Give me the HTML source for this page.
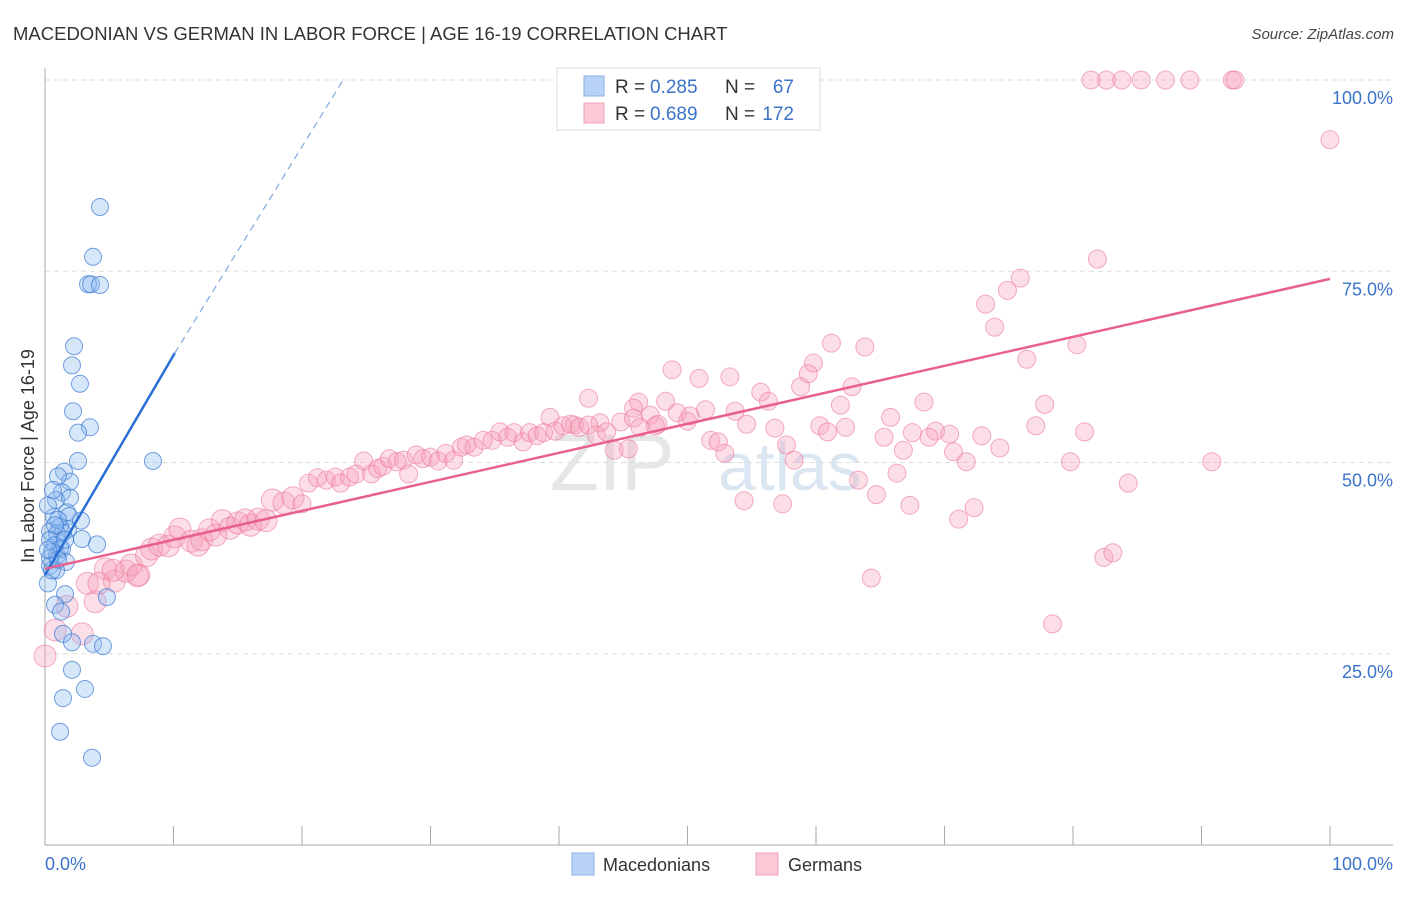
<!DOCTYPE html>
<html><head><meta charset="utf-8"><style>
body{margin:0;background:#fff;font-family:"Liberation Sans",sans-serif;}
svg text{font-family:"Liberation Sans",sans-serif;}
</style></head><body>
<svg id="chart" width="1406" height="892" xmlns="http://www.w3.org/2000/svg">
<text x="13" y="40" font-size="18.5" fill="#333">MACEDONIAN VS GERMAN IN LABOR FORCE | AGE 16-19 CORRELATION CHART</text>
<text x="1394" y="39" font-size="15" fill="#444" font-style="italic" text-anchor="end">Source: ZipAtlas.com</text>
<text x="550" y="490" font-size="80" fill="#e6e6e6" font-family="Liberation Serif">ZIP</text>
<text x="718" y="490" font-size="68" fill="#dbe6f3">atlas</text>
<g id="grid"></g>
<line x1="45" y1="68" x2="45" y2="845" stroke="#aaa" stroke-width="1"/>
<line x1="45" y1="845" x2="1393" y2="845" stroke="#aaa" stroke-width="1"/>
<g id="xticks"></g>
<text transform="translate(34,456) rotate(-90)" font-size="18" fill="#333" text-anchor="middle">In Labor Force | Age 16-19</text>
<text x="45" y="870" font-size="18" fill="#3b73c9">0.0%</text>
<text x="1393" y="870" font-size="18" fill="#3b73c9" text-anchor="end">100.0%</text>
<g id="pink"></g><g id="blue"></g><g id="trends"></g>
<g>
<rect x="557" y="68" width="263" height="62" fill="#fff" stroke="#ddd"/>
<rect x="584" y="76" width="20" height="20" fill="#b8d3f5" stroke="#8ab2e8"/>
<rect x="584" y="103" width="20" height="20" fill="#fcc8d6" stroke="#f0a0b8"/>
<text x="615" y="93" font-size="19" fill="#333">R =</text>
<text x="650" y="93" font-size="19" fill="#3b73c9">0.285</text>
<text x="725" y="93" font-size="19" fill="#333">N =</text>
<text x="794" y="93" font-size="19" fill="#3b73c9" text-anchor="end">67</text>
<text x="615" y="120" font-size="19" fill="#333">R =</text>
<text x="650" y="120" font-size="19" fill="#3b73c9">0.689</text>
<text x="725" y="120" font-size="19" fill="#333">N =</text>
<text x="794" y="120" font-size="19" fill="#3b73c9" text-anchor="end">172</text>
</g>
<g>
<rect x="572" y="853" width="22" height="22" fill="#b8d3f5" stroke="#8ab2e8"/>
<text x="603" y="871" font-size="18" fill="#333">Macedonians</text>
<rect x="756" y="853" width="22" height="22" fill="#fcc8d6" stroke="#f0a0b8"/>
<text x="788" y="871" font-size="18" fill="#333">Germans</text>
</g>
</svg>
<script>
const yTicks=[25,50,75,100];
const yTickLabels=["25.0%","50.0%","75.0%","100.0%"];
const xTickVals=[0,10,20,30,40,50,60,70,80,90,100];
const blueX=[4.28,3.74,3.35,3.58,4.28,2.26,2.10,2.72,2.18,3.50,2.57,2.57,8.40,1.48,1.95,1.01,1.32,0.86,0.70,1.71,1.87,2.80,1.17,1.79,0.39,0.93,1.40,2.88,4.05,0.39,0.78,1.17,0.54,0.93,1.32,1.63,0.39,0.86,0.23,4.82,1.56,0.78,1.25,1.40,3.74,4.51,2.10,2.10,3.11,1.40,1.17,3.66,0.54,0.39,1.01,1.95,0.23,0.62,1.01,1.56,0.23,0.78];
const blueY=[83.4,76.9,73.3,73.3,73.2,65.2,62.7,60.3,56.7,54.6,53.9,50.2,50.2,48.8,47.5,48.2,46.1,45.1,42.9,43.5,43.0,42.4,41.6,41.3,41.0,40.7,40.8,40.0,39.3,39.9,39.2,38.8,38.3,37.8,38.7,37.0,36.5,35.9,34.2,32.4,32.8,31.4,30.5,27.6,26.3,26.0,26.5,22.9,20.4,19.2,14.8,11.4,35.9,37.5,42.5,45.4,44.4,46.4,37.3,39.9,38.6,41.8];
const pinkX=[81.4,82.6,83.8,85.3,87.2,89.1,92.4,92.6,100,81.9,75.9,74.9,73.2,73.9,76.4,80.3,61.2,63.8,48.8,50.9,53.3,59.8,59.4,62.8,55.7,58.8,42.3,46.2,56.3,68.4,77.8,48.3,45.8,47.1,49.2,51.4,53.7,39.3,41.2,43.2,61.9,65.8,77.1,80.9,54.6,56.8,60.3,60.9,62.3,65.3,67.5,69.3,70.4,72.9,68.8,51.8,52.4,44.3,45.4,52.9,57.7,58.3,66.8,70.7,71.7,74.3,79.8,90.8,63.3,66.3,64.7,84.3,54.4,57.4,67.3,71.1,72.3,82.4,83.1,64.3,78.4,
0,0.8,1.7,2.9,3.9,3.3,4.7,5.4,6.3,7.3,6.7,7.9,8.3,8.9,9.6,10.1,10.5,11.4,11.9,12.2,12.8,13.3,13.8,14.4,15.0,15.6,16.0,16.6,17.2,17.7,18.6,19.3,20.0,20.5,21.2,21.9,22.6,23.0,23.7,24.2,24.8,25.4,25.9,26.3,26.8,27.4,27.9,28.3,28.9,29.4,30.0,30.6,31.2,31.8,32.4,32.8,33.4,34.1,34.8,35.4,36.0,36.5,37.2,37.7,38.3,38.8,39.7,40.3,40.9,41.6,42.3,42.9,43.7,44.8,45.8,46.3,47.7,50.0,50.2,47.5,5.3,7.2,4.2];
const pinkY=[100,100,100,100,100,100,100,100,92.2,76.6,74.1,72.5,70.7,67.7,63.5,65.4,65.6,65.1,62.1,61.0,61.2,63.0,61.6,59.9,59.2,59.9,58.4,57.9,58.0,57.9,57.6,58.0,57.1,56.2,56.5,56.9,56.7,55.9,54.9,55.2,57.5,55.9,54.8,54.0,55.0,54.5,54.8,54.0,54.6,53.3,53.9,54.1,53.7,53.5,53.3,52.9,52.7,51.6,51.8,51.2,52.3,50.3,51.6,51.4,50.1,51.9,50.1,50.1,47.7,48.6,45.8,47.3,45.0,44.6,44.4,42.6,44.1,37.6,38.2,34.9,28.9,
24.7,28.1,31.2,27.6,31.8,34.2,36.1,34.5,35.8,35.3,36.6,37.8,38.7,39.2,39.1,40.3,41.3,39.7,39.2,39.9,41.2,40.5,42.4,41.4,42.1,42.5,41.8,42.6,42.4,45.1,44.7,45.4,44.6,47.3,48.0,47.7,48.1,47.3,48.1,48.5,50.2,48.5,49.2,49.5,50.5,50.1,50.3,48.5,51.0,50.5,50.7,50.2,51.2,50.3,52.0,52.3,52.0,52.9,52.9,54.0,53.3,53.9,52.7,53.9,53.5,53.9,54.1,54.8,55.0,54.6,54.9,53.6,54.0,55.3,55.8,54.6,55.0,55.4,56.1,54.8,35.9,35.2,34.2];
const blueTrend=[0,35.3,10.1,64.3,23.2,100];
const pinkTrend=[0,36.1,100,74.0];
const NS="http://www.w3.org/2000/svg";
const X0=45,X1=1330,Y0=845,Y100=80;
function sx(v){return X0+(X1-X0)*v/100;}
function sy(v){return Y0-(Y0-Y100)*v/100;}
function mk(tag,attrs,parent){const e=document.createElementNS(NS,tag);for(const k in attrs)e.setAttribute(k,attrs[k]);document.getElementById(parent).appendChild(e);return e;}
yTicks.forEach((t,i)=>{
  const g=mk('line',{x1:45,x2:1393,y1:sy(t),y2:sy(t),stroke:'#ddd','stroke-dasharray':'5,4'},'grid');
  
  
  const tx=mk('text',{x:1393,y:sy(t)+24,'font-size':18,fill:'#3b73c9','text-anchor':'end'},'grid');
  tx.textContent=yTickLabels[i];
  
  
});
xTickVals.forEach(t=>{
  const l=mk('line',{x1:sx(t),x2:sx(t),y1:826,y2:845,stroke:'#aaa'},'xticks');
  
  
});
pinkX.forEach((x,i)=>{
  const c=mk('circle',{cx:sx(x),cy:sy(pinkY[i]),r:x<20?11:9,fill:'rgba(246,160,185,0.35)',stroke:'rgba(236,120,155,0.6)','stroke-width':1},'pink');
  
  
});
blueX.forEach((x,i)=>{
  const c=mk('circle',{cx:sx(x),cy:sy(blueY[i]),r:8.5,fill:'rgba(140,185,240,0.35)',stroke:'rgba(60,120,210,0.7)','stroke-width':1},'blue');
  
  
});
const bt1=mk('line',{x1:sx(blueTrend[0]),y1:sy(blueTrend[1]),x2:sx(blueTrend[2]),y2:sy(blueTrend[3]),stroke:'#2a6fd6','stroke-width':2.5},'trends');


const bt2=mk('line',{x1:sx(blueTrend[2]),y1:sy(blueTrend[3]),x2:sx(blueTrend[4]),y2:sy(blueTrend[5]),stroke:'#7fa8e0','stroke-width':1.2,'stroke-dasharray':'7,5'},'trends');


const pt=mk('line',{x1:sx(pinkTrend[0]),y1:sy(pinkTrend[1]),x2:sx(pinkTrend[2]),y2:sy(pinkTrend[3]),stroke:'#e8608d','stroke-width':2.5},'trends');


</script>
</body></html>
